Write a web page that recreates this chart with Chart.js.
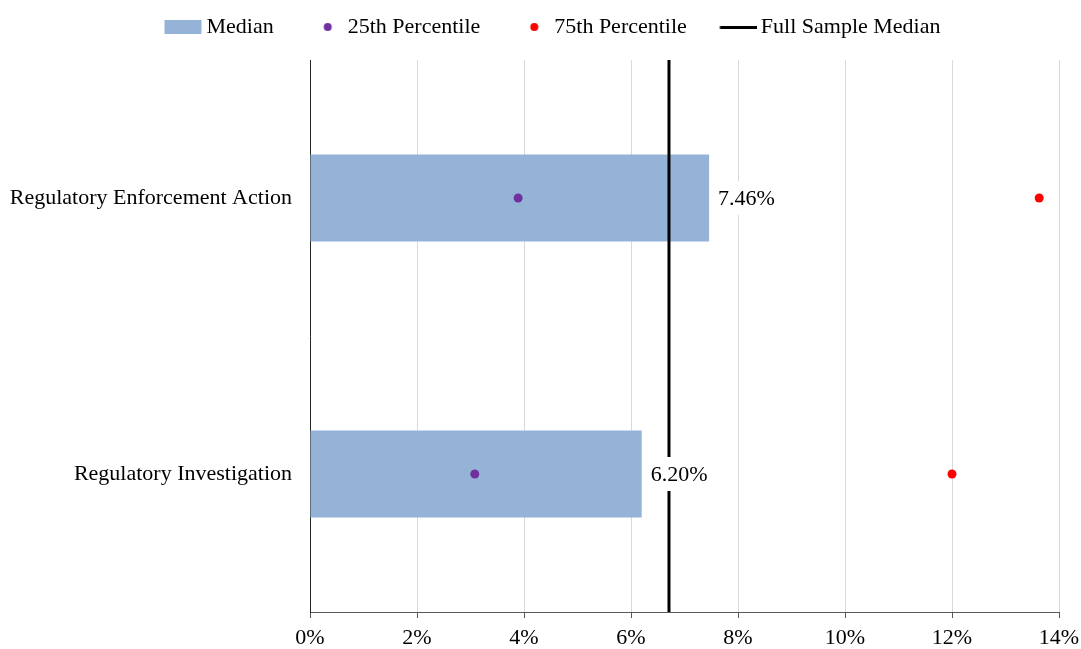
<!DOCTYPE html>
<html>
<head>
<meta charset="utf-8">
<script src="https://cdn.jsdelivr.net/npm/chart.js@4.4.0/dist/chart.umd.min.js"></script>
<style>
  html, body { margin: 0; padding: 0; background: #fff; }
  #wrap { width: 1081px; height: 649px; }
</style>
</head>
<body>
<div id="wrap"><canvas id="chart"></canvas></div>
<script>
// values
const categories = ['Regulatory Enforcement Action', 'Regulatory Investigation'];
const medianValues = [7.46, 6.20];
const p25Values = [3.89, 3.08];
const p75Values = [13.63, 12.00];
const fullSampleMedian = 6.71;
const xMin = 0, xMax = 14, xStep = 2;
const legendNames = ['Median', '25th Percentile', '75th Percentile', 'Full Sample Median'];

const FONT = "'Liberation Serif', 'Times New Roman', serif";
const BLUE = '#95b3d7';
const PURPLE = '#7030a0';
const RED = '#ff0000';

// legend symbols drawn into a 68px canvas; the symbol sits on the right side
function icon(draw) {
  const c = document.createElement('canvas');
  c.width = 68; c.height = 14;
  draw(c.getContext('2d'));
  return c;
}
const icons = [
  icon(g => { g.fillStyle = BLUE; g.fillRect(29.5, 0, 37, 14); }),
  icon(g => { g.fillStyle = PURPLE; g.beginPath(); g.arc(51.5, 7, 4, 0, Math.PI * 2); g.fill(); }),
  icon(g => { g.fillStyle = RED; g.beginPath(); g.arc(51.5, 7, 4, 0, Math.PI * 2); g.fill(); }),
  icon(g => { g.fillStyle = '#000'; g.fillRect(30.5, 6, 39, 3); })
];

// a bit of room under the legend
const legendGap = {
  id: 'legendGap',
  beforeInit(chart) {
    const fit = chart.legend.fit;
    chart.legend.fit = function () {
      fit.bind(chart.legend)();
      this.height += 12;
    };
  }
};

// full sample median line + value labels with white background
const overlay = {
  id: 'overlay',
  afterDatasetsDraw(chart) {
    const { ctx, chartArea, scales } = chart;
    const x = scales.x.getPixelForValue(fullSampleMedian);
    ctx.save();
    ctx.strokeStyle = '#000';
    ctx.lineWidth = 3;
    ctx.beginPath();
    ctx.moveTo(x, chartArea.top);
    ctx.lineTo(x, chartArea.bottom);
    ctx.stroke();

    ctx.font = '22px ' + FONT;
    ctx.textBaseline = 'middle';
    ctx.textAlign = 'left';
    chart.getDatasetMeta(0).data.forEach((bar, i) => {
      const txt = medianValues[i].toFixed(2) + '%';
      const w = ctx.measureText(txt).width;
      const tx = bar.x + 9;
      ctx.fillStyle = '#fff';
      ctx.fillRect(tx - 3, bar.y - 17, w + 6, 34);
      ctx.fillStyle = '#000';
      ctx.fillText(txt, tx, bar.y + 1);
    });
    ctx.restore();
  }
};

new Chart(document.getElementById('chart'), {
  type: 'bar',
  data: {
    labels: categories,
    datasets: [
      { label: legendNames[0], data: medianValues, backgroundColor: BLUE, indexAxis: 'y',
        categoryPercentage: 1, barPercentage: 0.315, order: 3 },
      { type: 'line', label: legendNames[1], data: p25Values, indexAxis: 'y', showLine: false,
        pointRadius: 4.5, pointBackgroundColor: PURPLE, pointBorderWidth: 0, order: 1 },
      { type: 'line', label: legendNames[2], data: p75Values, indexAxis: 'y', showLine: false,
        pointRadius: 4.5, pointBackgroundColor: RED, pointBorderWidth: 0, order: 1 }
    ]
  },
  options: {
    indexAxis: 'y',
    responsive: true,
    maintainAspectRatio: false,
    animation: false,
    layout: { padding: { left: 2, right: 0, top: 6, bottom: 0 } },
    plugins: {
      tooltip: { enabled: false },
      legend: {
        position: 'top',
        labels: {
          font: { family: FONT, size: 22 },
          color: '#000',
          usePointStyle: true,
          pointStyleWidth: 53,
          boxHeight: 14,
          padding: 10,
          generateLabels: () => legendNames.map((name, i) => ({
            text: name, pointStyle: icons[i], fillStyle: 'transparent',
            strokeStyle: 'transparent', lineWidth: 0, hidden: false, datasetIndex: i < 3 ? i : undefined
          }))
        },
        onClick: () => {}
      }
    },
    scales: {
      x: {
        type: 'linear',
        position: 'bottom',
        min: xMin,
        max: xMax,
        afterFit: s => { s.height = 37; s.paddingRight = 22; },
        ticks: {
          stepSize: xStep,
          callback: v => v + '%',
          font: { family: FONT, size: 22 },
          color: '#000',
          padding: 7,
          maxRotation: 0
        },
        grid: { color: '#d9d9d9', tickColor: '#595959', tickLength: 6, lineWidth: 1 },
        border: { color: '#595959', width: 1 }
      },
      y: {
        type: 'category',
        afterFit: s => { s.width = 308; },
        ticks: { font: { family: FONT, size: 22 }, color: '#000', padding: 18 },
        grid: { display: false, drawTicks: false, tickLength: 0 },
        border: { color: '#262626', width: 1 }
      }
    }
  },
  plugins: [legendGap, overlay]
});
</script>
</body>
</html>
